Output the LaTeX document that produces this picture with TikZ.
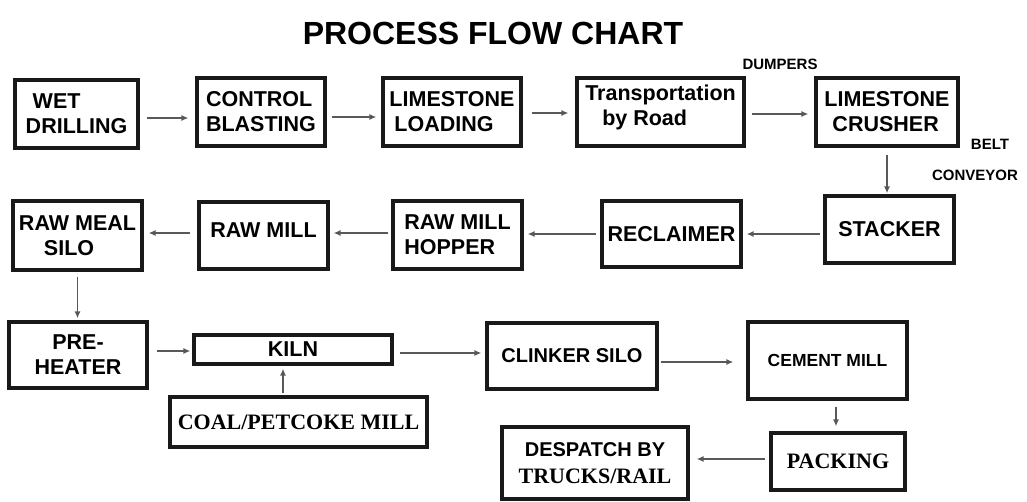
\documentclass[tikz,border=0pt]{standalone}
\usepackage{fontspec}
\setmainfont{Liberation Sans}
\newfontfamily\timesf{Liberation Serif}
\usetikzlibrary{arrows.meta}
\begin{document}
\begin{tikzpicture}[x=1pt,y=-1pt,
  box/.style={draw=black!90, line width=3.2pt, inner sep=0pt, align=center,
    font=\bfseries\fontsize{21.5}{25}\selectfont},
  arr/.style={draw=black!65, line width=1.4pt, -{Latex[length=7pt,width=6pt,fill=black!85]}},
  lbl/.style={font=\bfseries\fontsize{15}{16}\selectfont, inner sep=0pt},
  ttl/.style={font=\bfseries\fontsize{32}{36}\selectfont, inner sep=0pt}]
\useasboundingbox (0,0) rectangle (1027,502);

\node[ttl] (title) at (493,33) {PROCESS FLOW CHART};

% row 1
\node[box, align=left, minimum width=123pt, minimum height=68pt] (wet) at (76.5,114) {\hspace*{7pt}WET\\DRILLING};
\node[box, align=left, minimum width=128pt, minimum height=68pt] (ctrl) at (261,112) {CONTROL\\BLASTING};
\node[box, align=left, minimum width=138pt, minimum height=68pt] (lload) at (452,112) {LIMESTONE\\\hspace*{5pt}LOADING};
\node[box, align=left, minimum width=167pt, minimum height=68pt] (trans) at (660.5,112) {Transportation\\\hspace*{17pt}by Road\\[-12pt]\mbox{}};
\node[box, align=left, minimum width=142pt, minimum height=68pt] (crush) at (887,112) {LIMESTONE\\\hspace*{8pt}CRUSHER};

% row 2
\node[box, minimum width=129pt, minimum height=67pt] (stack) at (889.5,229.5) {STACKER};
\node[box, minimum width=139pt, minimum height=66pt] (recl) at (671.5,234) {RECLAIMER};
\node[box, align=left, minimum width=129pt, minimum height=68pt] (hopper) at (457.5,235) {RAW MILL\\HOPPER};
\node[box, minimum width=129pt, minimum height=67pt] (rawmill) at (263.5,235.5) {RAW MILL\\[-14pt]\mbox{}};
\node[box, align=left, minimum width=129pt, minimum height=69pt] (rms) at (77.5,235.5) {RAW MEAL\\\hspace*{25pt}SILO};

% row 3
\node[box, minimum width=138pt, minimum height=66pt] (pre) at (78,355) {PRE-\\HEATER};
\node[box, minimum width=198pt, minimum height=29pt] (kiln) at (293,349.5) {KILN};
\node[box, minimum width=257pt, minimum height=50pt, font=\timesf\bfseries\fontsize{22}{25}\selectfont] (coal) at (298.5,422) {COAL/PETCOKE MILL};
\node[box, minimum width=170pt, minimum height=66pt, font=\bfseries\fontsize{20}{24}\selectfont] (clinker) at (572,356) {CLINKER SILO};
\node[box, minimum width=159pt, minimum height=77pt, font=\bfseries\fontsize{17.5}{20}\selectfont] (cement) at (827.5,360.5) {CEMENT MILL};

% row 4
\node[box, minimum width=134pt, minimum height=57pt, font=\timesf\bfseries\fontsize{22}{25}\selectfont] (pack) at (838,461.5) {PACKING};
\node[box, minimum width=186pt, minimum height=72pt, font=\bfseries\fontsize{20}{24}\selectfont] (desp) at (595,463) {DESPATCH BY\\[3pt]{\timesf\fontsize{22}{25}\selectfont TRUCKS/RAIL}};

% labels
\node[lbl] (dump) at (780,64) {DUMPERS};
\node[lbl] (belt) at (990,144) {BELT};
\node[lbl] (conv) at (975,175) {CONVEYOR};

% arrows
\draw[arr] ([xshift=7pt,yshift=-4pt]wet.east) -- ([xshift=-7pt,yshift=-4pt]wet.east -| ctrl.west);
\draw[arr] ([xshift=5pt,yshift=-5pt]ctrl.east) -- ([xshift=-5pt,yshift=-5pt]ctrl.east -| lload.west);
\draw[arr] ([xshift=9pt,yshift=-1pt]lload.east) -- ([xshift=-7pt,yshift=-1pt]lload.east -| trans.west);
\draw[arr] ([xshift=6pt,yshift=-2pt]trans.east) -- ([xshift=-6pt,yshift=-2pt]trans.east -| crush.west);
\draw[arr] ([yshift=-7pt]crush.south) -- ([yshift=1pt]crush.south |- stack.north);
\draw[arr] ([xshift=-3pt]stack.west |- recl.east) -- ([xshift=4pt]recl.east);
\draw[arr] ([xshift=-4pt]recl.west) -- ([xshift=4pt]recl.west -| hopper.east);
\draw[arr] ([xshift=-3pt,yshift=2pt]hopper.west) -- ([xshift=4pt,yshift=2pt]hopper.west -| rawmill.east);
\draw[arr] ([xshift=-7pt,yshift=2.5pt]rawmill.west) -- ([xshift=5pt,yshift=2.5pt]rawmill.west -| rms.east);
\draw[arr] ([yshift=-5pt]rms.south) -- ([yshift=2pt]rms.south |- pre.north);
\draw[arr] ([xshift=8pt,yshift=4pt]pre.east) -- ([xshift=-2pt,yshift=4pt]pre.east -| kiln.west);
\draw[arr] ([xshift=-15.5pt,yshift=2pt]coal.north) -- ([xshift=-15.5pt,yshift=-3pt]coal.north |- kiln.south);
\draw[arr] ([xshift=6pt,yshift=-3.5pt]kiln.east) -- ([xshift=-4pt,yshift=-3.5pt]kiln.east -| clinker.west);
\draw[arr] ([xshift=2pt,yshift=-6pt]clinker.east) -- ([xshift=-13pt,yshift=-6pt]clinker.east -| cement.west);
\draw[arr] ([xshift=8.5pt,yshift=-6pt]cement.south) -- ([xshift=8.5pt,yshift=5pt]cement.south |- pack.north);
\draw[arr] ([xshift=-4pt,yshift=2.5pt]pack.west) -- ([xshift=7pt,yshift=2.5pt]pack.west -| desp.east);
\end{tikzpicture}
\end{document}
